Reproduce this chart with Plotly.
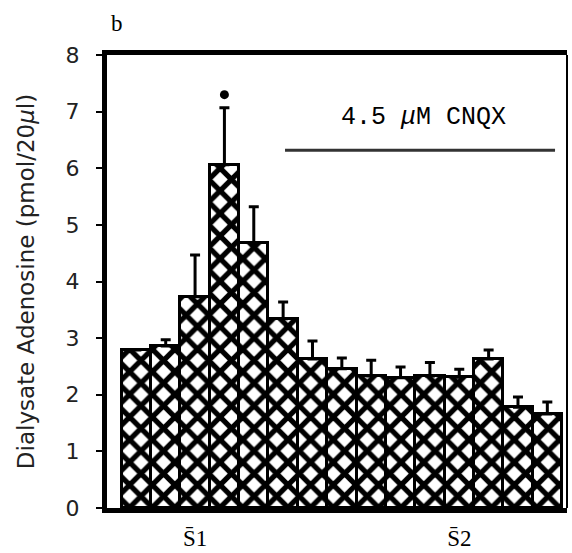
import plotly.graph_objects as go

# --- data ---
samples = list(range(1, 16))
adenosine = [2.79, 2.86, 3.73, 6.06, 4.68, 3.34, 2.63, 2.46, 2.33, 2.30, 2.33, 2.31, 2.63, 1.78, 1.66]
sem = [0.0, 0.11, 0.74, 1.01, 0.64, 0.30, 0.32, 0.19, 0.28, 0.19, 0.24, 0.14, 0.16, 0.18, 0.21]
sig_x = [4]
sig_y = [7.3]
tick_pos = [3, 12]
tick_text = ["S\u03041", "S\u03042"]
y_ticks = [0, 1, 2, 3, 4, 5, 6, 7, 8]

fig = go.Figure()
fig.add_trace(go.Bar(
    x=samples, y=adenosine, width=1.0,
    marker=dict(color="white",
                line=dict(color="black", width=3),
                pattern=dict(shape="x", fgcolor="black", bgcolor="white",
                             size=16, solidity=0.55, fillmode="replace", fgopacity=1)),
    error_y=dict(type="data", symmetric=False, array=sem,
                 arrayminus=[0]*len(sem), color="black", thickness=3, width=5),
    showlegend=False,
))
fig.add_trace(go.Scatter(
    x=sig_x, y=sig_y, mode="markers",
    marker=dict(symbol="circle", size=9, color="black"),
    showlegend=False,
))

fig.update_layout(
    width=572, height=553,
    margin=dict(l=107, r=5, t=55, b=45),
    paper_bgcolor="white", plot_bgcolor="white",
    bargap=0,
    xaxis=dict(range=[0, 15.67], tickmode="array", tickvals=tick_pos, ticktext=tick_text,
               showgrid=False, zeroline=False, showline=True, linecolor="black",
               linewidth=5, mirror=True, ticks="", ticklabelstandoff=5, automargin=False,
               tickfont=dict(family="Liberation Serif", size=23, color="black")),
    yaxis=dict(range=[0, 8], tickmode="array", tickvals=y_ticks,
               showgrid=False, zeroline=False, showline=True, linecolor="black",
               linewidth=5, ticks="outside", ticklen=6, tickwidth=2, tickcolor="black",
               ticklabelstandoff=12,
               tickfont=dict(family="DejaVu Sans", size=22, color="#222"),
               title=dict(text="Dialysate Adenosine (pmol/20<i>\u03bc</i>l)", standoff=26,
                          font=dict(family="DejaVu Sans", size=23, color="#222"))),
)

# right border thinner
fig.add_shape(type="line", xref="paper", yref="paper", x0=1, x1=1, y0=0, y1=1,
              line=dict(color="black", width=2))
# CNQX bar and label
fig.add_shape(type="line", xref="paper", yref="paper", x0=0.387, x1=0.974, y0=0.79, y1=0.79,
              line=dict(color="#333", width=3))
fig.add_annotation(xref="paper", yref="paper", x=0.687, y=0.863, xanchor="center", yanchor="middle",
                   text="4.5 <i>\u03bc</i>M CNQX", showarrow=False,
                   font=dict(family="Liberation Mono", size=25, color="black"))
fig.add_annotation(xref="paper", yref="paper", x=0.022, y=1.0706, xanchor="center", yanchor="middle",
                   text="b", showarrow=False,
                   font=dict(family="Liberation Serif", size=23, color="black"))

fig.write_html("out.html")
